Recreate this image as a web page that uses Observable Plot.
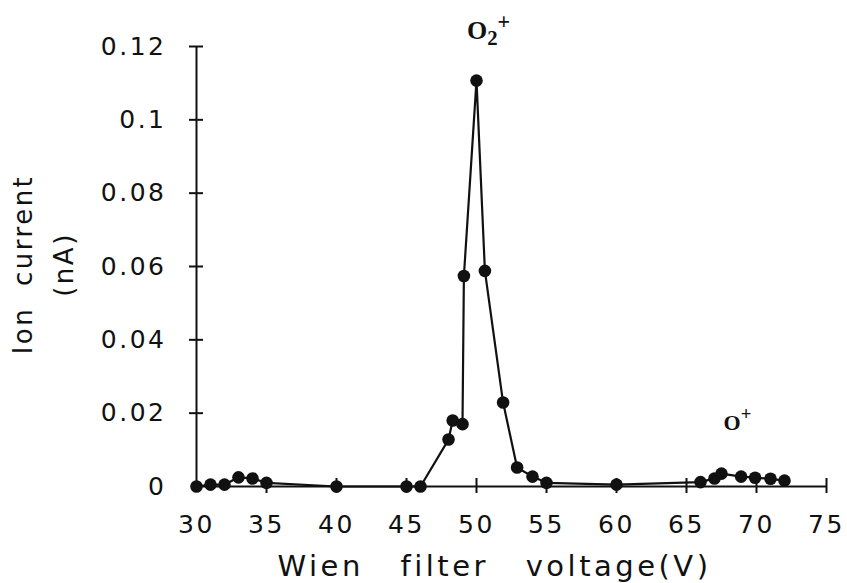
<!DOCTYPE html>
<html><head><meta charset="utf-8">
<script src="https://cdn.jsdelivr.net/npm/d3@7"></script>
<script src="https://cdn.jsdelivr.net/npm/@observablehq/plot@0.6"></script>
<style>body{margin:0;background:#fff}</style>
</head><body><div id="chart"></div>
<script>
// Data
const voltage = [30, 31, 32, 33, 34, 35, 40, 45, 46, 48, 48.3, 49, 49.1, 50, 50.6, 51.9, 52.9, 54, 55, 60, 66, 67, 67.5, 68.9, 69.9, 71, 72];
const current = [0, 0.0005, 0.0005, 0.0025, 0.0022, 0.001, 0, 0, 0, 0.0128, 0.018, 0.017, 0.0574, 0.1107, 0.0588, 0.0229, 0.0052, 0.0027, 0.001, 0.0005, 0.0012, 0.0022, 0.0035, 0.0027, 0.0024, 0.0021, 0.0016];
const xTicks = [30, 35, 40, 45, 50, 55, 60, 65, 70, 75];
const yTicks = [0, 0.02, 0.04, 0.06, 0.08, 0.1, 0.12];
const yTickLabels = ["0", "0.02", "0.04", "0.06", "0.08", "0.1", "0.12"];
const peakLabels = ["O2+", "O+"];
const peakVoltages = [50, 67.5];
const xLabel = "Wien filter voltage(V)";
const yLabelLines = ["Ion current", "(nA)"];

const xDomain = [xTicks[0], xTicks[xTicks.length - 1]];
const yDomain = [yTicks[0], yTicks[yTicks.length - 1]];
const points = voltage.map((v, i) => ({v, c: current[i]}));
const peaks = peakVoltages.map((v, i) => ({v, c: current[voltage.indexOf(v)], label: peakLabels[i]}));
const ink = "#111";

const plot = Plot.plot({
  width: 847, height: 583,
  marginLeft: 196, marginRight: 21, marginTop: 46, marginBottom: 97,
  style: {fontFamily: "DejaVu Sans", fontSize: "25px", background: "#fff", color: ink},
  x: {domain: xDomain, ticks: xTicks, tickSize: 0, tickPadding: 29, label: null},
  y: {domain: yDomain, ticks: yTicks, tickSize: 0, tickPadding: 30, label: null,
      tickFormat: d => yTickLabels[yTicks.indexOf(d)]},
  marks: [
    Plot.ruleX([xDomain[0]], {y1: yDomain[0], y2: yDomain[1], stroke: ink, strokeWidth: 2}),
    Plot.ruleY([yDomain[0]], {x1: xDomain[0], x2: xDomain[1], stroke: ink, strokeWidth: 2}),
    Plot.ruleY(yTicks.slice(1), {x1: xDomain[0], x2: xDomain[0], insetLeft: -7, insetRight: -7, stroke: ink, strokeWidth: 2}),
    Plot.ruleX(xTicks.slice(1), {y1: yDomain[0], y2: yDomain[0], insetTop: -8, insetBottom: -7, stroke: ink, strokeWidth: 2}),
    Plot.line(points, {x: "v", y: "c", stroke: ink, strokeWidth: 2.2}),
    Plot.dot(points, {x: "v", y: "c", r: 6.3, fill: ink}),
    Plot.text([peaks[0]], {x: "v", y: "c", text: "label", dx: 12, dy: -42, lineAnchor: "bottom",
      fontFamily: "Liberation Serif", fontWeight: "bold", fontSize: 26, fill: ink}),
    Plot.text([peaks[1]], {x: "v", y: "c", text: "label", dx: 16, dy: -44, lineAnchor: "bottom",
      fontFamily: "Liberation Serif", fontWeight: "bold", fontSize: 22, fill: ink}),
    Plot.text([yLabelLines.join("\n")], {frameAnchor: "left", textAnchor: "middle", rotate: -90, dx: -157, dy: -2,
      lineHeight: 1.55, fontSize: 26, fill: ink}),
    Plot.text([xLabel], {frameAnchor: "bottom", textAnchor: "middle", dx: -17, dy: 80, lineAnchor: "middle", fontSize: 29, fill: ink})
  ]
});

document.getElementById("chart").appendChild(plot);

// typographic touches: wide tracking, sub/superscripts on ion labels
plot.style.letterSpacing = "2.5px";
plot.querySelectorAll("text").forEach(t => {
  const s = t.textContent;
  if (peakLabels.includes(s)) {
    t.style.letterSpacing = "0px";
    t.textContent = "";
    let shift = 0;
    for (const ch of s) {
      const ts = document.createElementNS("http://www.w3.org/2000/svg", "tspan");
      ts.textContent = ch;
      let target = 0;
      if (/[0-9]/.test(ch)) { target = 6; ts.setAttribute("font-size", "0.8em"); }
      else if (ch === "+") { target = -10; ts.setAttribute("font-size", "0.85em"); }
      if (target !== shift) { ts.setAttribute("dy", target - shift); shift = target; }
      t.appendChild(ts);
    }
  } else if (s === xLabel) {
    t.style.wordSpacing = "24px";
    t.style.letterSpacing = "3.5px";
  } else if (s.startsWith(yLabelLines[0])) {
    t.style.wordSpacing = "10px";
    t.style.letterSpacing = "2.5px";
  }
});
</script>
</body></html>
